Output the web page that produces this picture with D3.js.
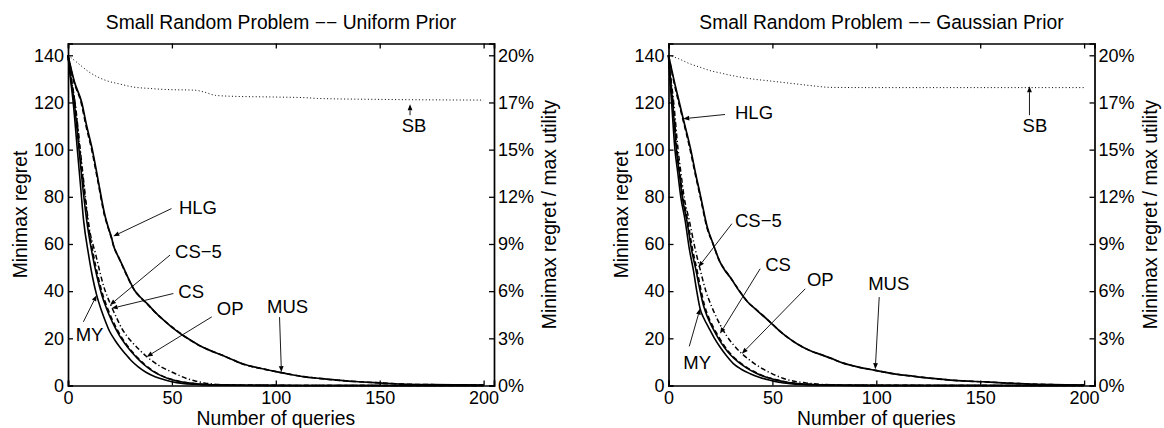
<!DOCTYPE html>
<html><head><meta charset="utf-8">
<script src="https://cdn.jsdelivr.net/npm/d3@7"></script>
<style>
body{margin:0;background:#fff;}
svg{display:block;}
text{font-family:"Liberation Sans",Arial,Helvetica,sans-serif;fill:#000;}
</style>
</head><body>
<svg id="c" width="1164" height="428"></svg>
<script>
// ---------- labels / ticks ----------
const xTicks = [0, 50, 100, 150, 200];
const yTicks = [0, 20, 40, 60, 80, 100, 120, 140];
const pctLabels = ["0%", "3%", "6%", "9%", "12%", "15%", "17%", "20%"];
const titles = ["Small Random Problem \u2212\u2212 Uniform Prior", "Small Random Problem \u2212\u2212 Gaussian Prior"];
const xLabel = "Number of queries";
const yLabel = "Minimax regret";
const y2Label = "Minimax regret / max utility";
const seriesNames = ["MY", "CS", "CS\u22125", "OP", "HLG", "MUS", "SB"];

// ---------- Uniform prior: [queries, minimax regret] ----------
const uniMY = [[0,140],[1.2,130],[2.5,120],[4.5,100],[6,85],[7.5,70],[9.8,56],[11.8,46],[13.8,38.3],[15.8,32.5],[17.8,27.7],[20,23],[22.6,19.2],[25,16.2],[27.4,13.6],[30.5,10.5],[33.8,7.9],[37.5,5.6],[41.9,3.7],[46,2.5],[50,1.6],[55,0.9],[61,0.5],[70,0.2],[85,0.08],[110,0.03],[200,0]];
const uniCS = [[0,140],[1.4,130],[3,120],[5.3,100],[7,85],[9,70],[11.6,56],[14,46],[16.3,38.3],[18.4,33],[20.5,28.5],[22.8,24.3],[25.2,20.5],[27.8,17.3],[30.5,14.3],[33.3,11.6],[36.5,8.9],[40.2,6.4],[44.5,4.3],[48.5,2.9],[53,1.8],[57.5,1.1],[63,0.6],[72,0.25],[85,0.1],[110,0.03],[200,0]];
const uniCS5 = [[0,140],[1.6,130],[3.3,120],[5.7,100],[7.5,85],[9.5,70],[12.1,56],[14.5,46],[16.8,38.3],[18.9,33],[21,28.5],[23.3,24.3],[25.7,20.5],[28.2,17.3],[30.9,14.3],[33.7,11.6],[36.9,8.9],[40.6,6.4],[44.8,4.3],[48.8,2.9],[53.3,1.8],[57.8,1.1],[63.3,0.6],[72,0.25],[85,0.1],[110,0.03],[200,0]];
const uniOP = [[0,140],[1.6,130],[3.4,120],[5.9,100],[8,83],[10.2,67],[13.2,56],[17.2,42],[21,33.3],[23.5,28.5],[26,24],[28.5,20.8],[31,18.2],[34.5,15],[37.9,12.2],[41.5,9.8],[45,7.8],[48.5,6.3],[51.5,5.1],[54.5,3.9],[57,3],[60,2.2],[62.6,1.6],[66,1],[70,0.6],[78,0.2],[90,0.08],[110,0.03],[200,0]];
const uniHLG = [[0,140],[2.8,129],[6.3,120],[8.7,110],[11.4,100],[14.3,87],[17.6,72],[19.3,67],[20.9,62.5],[22,59],[24,55],[25.8,51.5],[29,45.3],[32,40.3],[35,37.3],[38,34.6],[42,31],[47,27],[51,24.2],[55,21.5],[59,19.2],[63,17],[68,15],[74,12.9],[79,11],[84,9.1],[93,7.2],[100,5.9],[107,4.7],[113,3.8],[121,3],[129,2.3],[140,1.6],[150,1.1],[161,0.6],[175,0.35],[190,0.25],[200,0.2]];
const uniMUS = [[0,140],[3,129],[6.6,120],[9,110],[11.7,100],[14.5,87],[17.8,72],[19.4,67],[21,62.5],[22,59],[24,55],[25.8,51.7],[29,45.5],[32,40.4],[35,37.3],[38,34.8],[42,31],[47,27],[51,24],[55,21.4],[59,19.2],[63,17.1],[68,15],[74,12.9],[79,11],[84,9.2],[93,7.2],[100,5.9],[107,4.7],[113,3.8],[121,3],[129,2.3],[140,1.6],[150,1.1],[161,0.6],[175,0.35],[190,0.25],[200,0.2]];
const uniSB = [[0,140],[5,136.5],[10,133],[15,130.5],[18,129.4],[25,127.8],[31,126.6],[40,125.9],[47,125.5],[61,125.2],[66,124.3],[71,123],[80,122.6],[100,122.3],[115,122],[120,121.7],[150,121.3],[200,121]];

// ---------- Gaussian prior ----------
const gauMY = [[0,140],[0.7,130],[1.5,120],[3.1,100],[4.5,90],[5.9,80],[8,70],[10,58],[12,48.8],[13.6,40],[15.2,32.6],[17,28.5],[19.2,24.8],[22,20.2],[24.8,16.3],[28,12.5],[31.2,9.3],[35,6.9],[39.3,5],[44,3.4],[48.9,2.2],[53,1.4],[58.6,0.8],[65,0.45],[75,0.2],[90,0.06],[120,0.02],[200,0]];
const gauCS = [[0,140],[0.9,130],[2,120],[3.8,100],[5.2,90],[6.6,80],[8.8,70],[11,58],[13.2,49],[15,41],[16.8,34],[19,28.5],[21.5,24],[24,20],[27,16],[30,12.8],[33.5,10],[37.5,7.5],[42,5.3],[46,3.8],[51,2.5],[56,1.5],[62,0.8],[70,0.4],[80,0.15],[100,0.05],[200,0]];
const gauCS5 = [[0,140],[1,130],[2.2,120],[4.1,100],[5.5,90],[7,80],[9.2,70],[11.5,58],[13.7,49],[15.5,41],[17.3,34],[19.5,28.5],[22,24],[24.6,20],[27.5,16],[30.5,12.8],[34,10],[38,7.5],[42.5,5.3],[46.5,3.8],[51.5,2.5],[56.5,1.5],[62,0.8],[70,0.4],[80,0.15],[100,0.05],[200,0]];
const gauOP = [[0,140],[1.2,130],[2.5,120],[4.6,100],[6,90],[7.5,80],[10,70],[12.8,58],[15,50],[18,40],[21,33],[25,25.5],[28,21],[31.5,17],[35.3,13.5],[38,11.5],[41,9.5],[44.5,7.5],[48,5.8],[51.5,4.3],[55,3.1],[58.5,2.2],[62,1.6],[66,1.1],[70,0.7],[75,0.4],[80,0.2],[90,0.08],[110,0.03],[200,0]];
const gauHLG = [[0,140],[2.3,130],[4.9,120],[6.9,113],[10.4,100],[12.8,90],[15.3,80],[18.5,67],[21.4,60],[24.8,52.3],[27,49.2],[29.6,46],[34.4,39.8],[38,35.5],[42.5,32],[48.9,26.9],[53,23.5],[57,20.6],[62,17.6],[68,14.8],[73,13.2],[78,11.6],[84,9.5],[90,8.1],[99.5,6.4],[108,5],[118,3.9],[127,3],[137,2.2],[153,1.5],[169,0.8],[185,0.35],[200,0.2]];
const gauMUS = [[0,140],[2.5,130],[5.2,120],[7.1,113],[10.7,100],[13,90],[15.5,80],[18.7,67],[21.5,60],[24.8,52.3],[27,49],[29.6,46],[34.4,39.6],[38,35.5],[42.5,31.9],[48.9,26.9],[53,23.5],[57,20.6],[62,17.6],[68,14.8],[73,13.2],[78,11.6],[84,9.5],[90,8.1],[99.5,6.4],[108,5],[118,3.9],[127,3],[137,2.2],[153,1.5],[169,0.8],[185,0.35],[200,0.2]];
const gauSB = [[0,140],[5,138.5],[10,136.5],[15,135],[20,133.5],[25,132.5],[30,131.5],[40,130],[50,129],[60,128],[70,127],[78,126.4],[100,126.3],[200,126.3]];

// ---------- annotations: [label, textQ, textV, fromQ, fromV, tipQ, tipV] ----------
const uniAnnot = [
  ["HLG", 53.4, 72.7, 49.8, 75, 21.8, 63.3],
  ["CS\u22125", 51.5, 54, 49.1, 55.3, 20.2, 34.1],
  ["CS", 53.1, 37, 50.7, 39, 21, 32.7],
  ["OP", 71.6, 29.8, 69.2, 29.1, 37.9, 12.2],
  ["MY", 3.7, 19, 7.4, 27, 13.8, 38.3],
  ["MUS", 95.8, 30.7, 101.8, 29, 102.7, 5.7],
  ["SB", 160.6, 107.6, 164.6, 114.6, 164.6, 119.2]
];
const gauAnnot = [
  ["HLG", 32, 112.8, 27.2, 114.9, 7.1, 113.1],
  ["CS\u22125", 32, 67.2, 30.5, 68.6, 14.4, 50.2],
  ["CS", 46.5, 48.4, 44.1, 49.5, 24.8, 22],
  ["OP", 66.6, 42, 65.8, 41, 35.3, 13.5],
  ["MY", 7.1, 6.9, 10, 16.6, 15.2, 32.6],
  ["MUS", 96.1, 40.3, 101.4, 37.5, 99.5, 6.9],
  ["SB", 170.4, 107.5, 173.7, 114.6, 173.7, 126.9]
];

// ---------- drawing ----------
const styles = {
  "MY": {dash: null, w: 1.6},
  "CS": {dash: null, w: 1.6},
  "CS\u22125": {dash: "5,3", w: 1.6},
  "OP": {dash: "5,2.5,1.2,2.5", w: 1.5},
  "HLG": {dash: "5,3", w: 1.6},
  "MUS": {dash: null, w: 1.7},
  "SB": {dash: "1,2.4", w: 1.0}
};
const panels = [
  {left: 68, title: titles[0], series: [uniMY, uniCS, uniCS5, uniOP, uniHLG, uniMUS, uniSB], annot: uniAnnot},
  {left: 668.5, title: titles[1], series: [gauMY, gauCS, gauCS5, gauOP, gauHLG, gauMUS, gauSB], annot: gauAnnot}
];
const W = 426, TOP = 43.5, BOT = 385.5;
const FS_TICK = 18, FS_LAB = 19.3, FS_ANN = 18.5;
const svg = d3.select("#c");

panels.forEach(p => {
  const x = d3.scaleLinear().domain([0, 205]).range([p.left, p.left + W]);
  const y = d3.scaleLinear().domain([0, 145]).range([BOT, TOP]);
  const g = svg.append("g");

  // curves
  const line = d3.line().x(d => x(d[0])).y(d => y(d[1])).curve(d3.curveMonotoneX);
  p.series.forEach((s, i) => {
    const st = styles[seriesNames[i]];
    g.append("path").datum(s).attr("d", line)
      .attr("fill", "none").attr("stroke", "#000")
      .attr("stroke-width", st.w).attr("stroke-linejoin", "round")
      .attr("stroke-dasharray", st.dash);
  });

  // axes: bottom, top, left, right
  const tl = 5;
  const bottom = g.append("g").attr("transform", `translate(0,${BOT})`)
    .call(d3.axisBottom(x).tickValues(xTicks).tickSize(-tl).tickPadding(6));
  const top = g.append("g").attr("transform", `translate(0,${TOP})`)
    .call(d3.axisTop(x).tickValues(xTicks).tickSize(-tl).tickFormat(""));
  const left = g.append("g").attr("transform", `translate(${p.left},0)`)
    .call(d3.axisLeft(y).tickValues(yTicks).tickSize(-tl).tickPadding(4));
  const right = g.append("g").attr("transform", `translate(${p.left + W},0)`)
    .call(d3.axisRight(y).tickValues(yTicks).tickSize(-tl).tickPadding(4)
      .tickFormat((d, i) => pctLabels[i]));
  [bottom, top, left, right].forEach(a => {
    a.selectAll(".domain").attr("stroke", "#000").attr("stroke-width", 1.7);
    a.selectAll(".tick line").attr("stroke", "#000").attr("stroke-width", 1.3);
    a.selectAll(".tick text").attr("font-size", FS_TICK)
      .attr("font-family", "Liberation Sans, Arial, sans-serif").attr("fill", "#000");
  });

  // title & axis labels
  g.append("text").attr("x", p.left + W / 2).attr("y", 28.5)
    .attr("text-anchor", "middle").attr("font-size", FS_LAB).text(p.title);
  g.append("text").attr("x", x(100)).attr("y", 425)
    .attr("text-anchor", "middle").attr("font-size", FS_LAB).text(xLabel);
  g.append("text").attr("transform", `translate(${p.left - 41},${(TOP + BOT) / 2}) rotate(-90)`)
    .attr("text-anchor", "middle").attr("font-size", FS_LAB).text(yLabel);
  g.append("text").attr("transform", `translate(${p.left + W + 62},${(TOP + BOT) / 2}) rotate(-90)`)
    .attr("text-anchor", "middle").attr("font-size", FS_LAB).text(y2Label);

  // annotations
  p.annot.forEach(a => {
    const tx = x(a[1]), ty = y(a[2]);
    const fx = x(a[3]), fy = y(a[4]);
    const hx = x(a[5]), hy = y(a[6]);
    g.append("text").attr("x", tx).attr("y", ty).attr("font-size", FS_ANN).text(a[0]);
    const ang = Math.atan2(hy - fy, hx - fx);
    const L = 6, Wd = 2.4;
    const bx = hx - L * Math.cos(ang), by = hy - L * Math.sin(ang);
    g.append("line").attr("x1", fx).attr("y1", fy).attr("x2", bx).attr("y2", by)
      .attr("stroke", "#000").attr("stroke-width", 0.9);
    const px = -Math.sin(ang) * Wd, py = Math.cos(ang) * Wd;
    g.append("path")
      .attr("d", `M${hx},${hy}L${bx + px},${by + py}L${bx - px},${by - py}Z`)
      .attr("fill", "#000");
  });
});
</script>
</body></html>
